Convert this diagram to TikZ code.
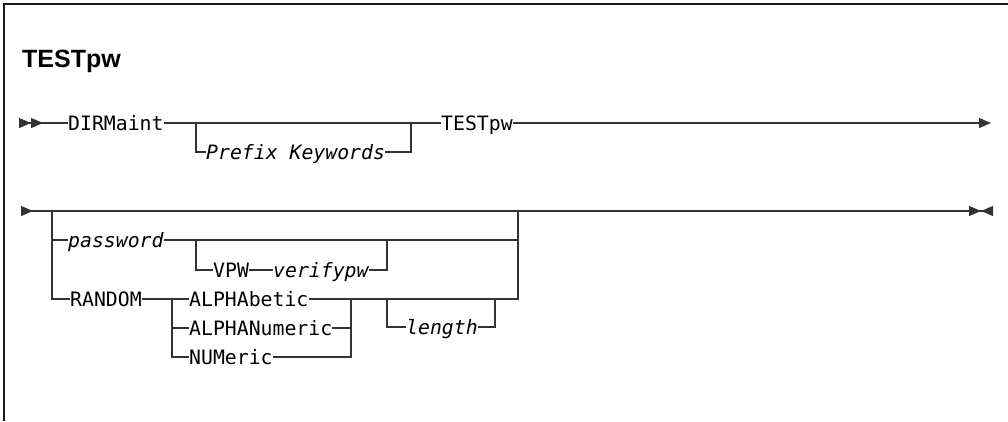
\documentclass[tikz,border=0pt]{standalone}
\usepackage{fontspec}
\setsansfont{Liberation Sans}
\setmonofont{DejaVu Sans Mono}
\usetikzlibrary{arrows.meta}
\newcommand\railfont{\ttfamily\fontsize{19.8}{22}\selectfont}

\begin{document}
\begin{tikzpicture}[
    x=1pt, y=-1pt,
    >={Triangle[length=12pt, width=10pt]},
    rail/.style={line width=1.1pt, draw=black!80},
    kw/.style={font=\railfont, inner sep=0pt, anchor=west, text height=14.4pt, text depth=0pt},
    var/.style={kw, font=\railfont\itshape}
]
\useasboundingbox (0,0) rectangle (1008,421);

% Frame and title
\draw[line width=1.6pt, black!90] (4,421) -- (4,4) -- (1008,4);
\node (title) [anchor=base west, inner sep=0pt, font=\sffamily\bfseries\fontsize{25}{30}\selectfont] at (22,67) {TESTpw};

% First line
\coordinate (s1) at (19,123);
\coordinate (e1) at (991,123);
\node (dir) [kw] at (68,123) {DIRMaint};
\node (pk) [var] at (206,152) {Prefix Keywords};
\node (cmd) [kw] at (441,123) {TESTpw};

\draw [rail, >>-] (s1) -- (dir.west);
\draw [rail] (dir.east) -- (cmd.west);
\draw [rail] (196,123) |- (pk.west);
\draw [rail] (pk.east) -| (411,123);
\draw [rail, ->] (cmd.east) -- (e1);

% Second line
\coordinate (s2) at (21,211);
\coordinate (e2) at (993,211);
\node (pw) [var] at (68,240) {password};
\node (vpw) [kw] at (213,270) {VPW};
\node (vp) [var] at (273,270) {verifypw};
\node (rnd) [kw] at (70,299) {RANDOM};
\node (ab) [kw] at (189,299) {ALPHAbetic};
\node (an) [kw] at (189,328) {ALPHANumeric};
\node (nu) [kw] at (189,357) {NUMeric};
\node (len) [var] at (406,327) {length};

\draw [rail, >-><] (s2) -- (e2);
\draw [rail] (52,211) |- (rnd.west);
\draw [rail] (52,240) -- (pw.west);
\draw [rail] (pw.east) -- (518,240);
\draw [rail] (196,240) |- (vpw.west);
\draw [rail] (vpw.east) -- (vp.west);
\draw [rail] (vp.east) -| (387,240);
\draw [rail] (rnd.east) -- (ab.west);
\draw [rail] (172,299) |- (nu.west);
\draw [rail] (172,328) -- (an.west);
\draw [rail] (an.east) -- (351,328);
\draw [rail] (nu.east) -| (351,299);
\draw [rail] (ab.east) -| (518,211);
\draw [rail] (387,299) |- (len.west);
\draw [rail] (len.east) -| (495,299);

\end{tikzpicture}
\end{document}
